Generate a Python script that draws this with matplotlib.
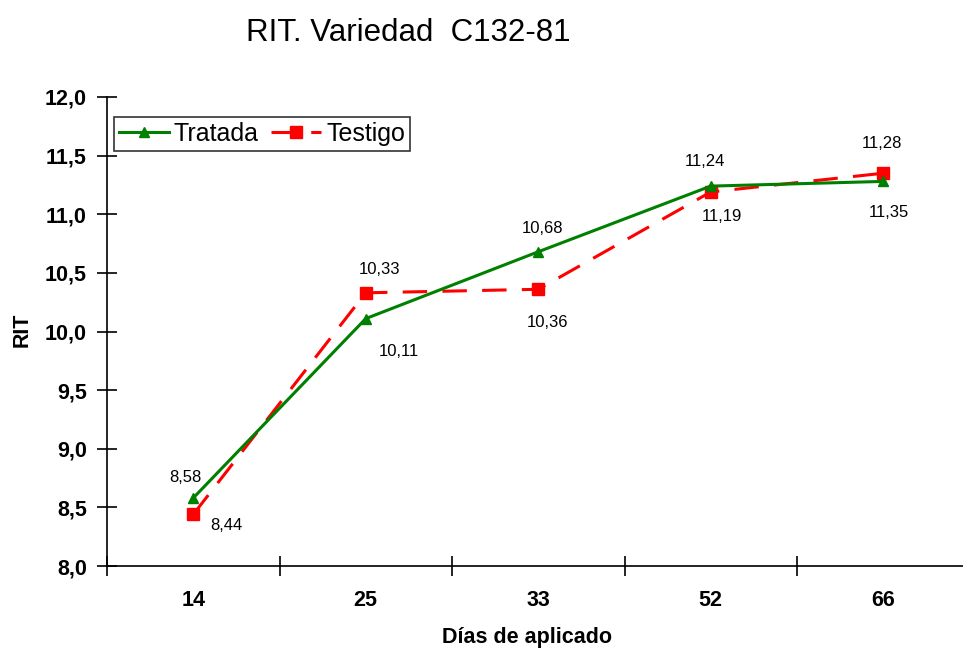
import matplotlib
matplotlib.use("Agg")
import matplotlib.pyplot as plt
from matplotlib.ticker import FuncFormatter

plt.rcParams['font.family'] = ['Liberation Sans', 'DejaVu Sans']

# data
dias = ['14', '25', '33', '52', '66']
tratada = [8.58, 10.11, 10.68, 11.24, 11.28]
testigo = [8.44, 10.33, 10.36, 11.19, 11.35]

# label offsets in points (dx, dy) for each point
off_tratada = [(-6, 15), (24, -24), (3, 17), (-4, 18), (-1, 27)]
off_testigo = [(24, -8), (10, 17), (7, -24), (8, -18), (4, -28)]

fig = plt.figure(figsize=(9.63, 6.5), dpi=100)
ax = fig.add_axes([107 / 963, 1 - 566 / 650, 862.5 / 963, 469 / 650])

x = list(range(len(dias)))
ax.plot(x, tratada, color='#008000', lw=2.2, marker='^', markersize=7,
        label='Tratada', zorder=3)
ax.plot(x, testigo, color='#ff0000', lw=2.2, marker='s', markersize=8,
        dashes=(8, 5), label='Testigo', zorder=2)

def fmt(v):
    return f"{v:.2f}".replace('.', ',')

for xi, v, o in zip(x, tratada, off_tratada):
    ax.annotate(fmt(v), (xi, v), xytext=o, textcoords='offset points',
                ha='center', va='center', fontsize=12)
for xi, v, o in zip(x, testigo, off_testigo):
    ax.annotate(fmt(v), (xi, v), xytext=o, textcoords='offset points',
                ha='center', va='center', fontsize=12)

ax.set_xlim(-0.5, len(dias) - 0.5)
ax.set_ylim(8.0, 12.0)
ax.set_yticks([8.0 + 0.5 * i for i in range(9)])
ax.yaxis.set_major_formatter(FuncFormatter(lambda v, p: f"{v:.1f}".replace('.', ',')))

ax.set_xticks(x)
ax.set_xticklabels(dias)
ax.set_xticks([i - 0.5 for i in range(len(dias) + 1)], minor=True)
ax.tick_params(axis='x', which='major', length=0, pad=17)
ax.tick_params(axis='x', which='minor', length=15, width=1.2, direction='inout')
ax.tick_params(axis='y', length=15, width=1.2, direction='inout', pad=7)
for lab in ax.get_xticklabels() + ax.get_yticklabels():
    lab.set_fontsize(15.5)
    lab.set_fontweight('bold')

for s in ['top', 'right']:
    ax.spines[s].set_visible(False)
for s in ['left', 'bottom']:
    ax.spines[s].set_linewidth(1.2)

ax.set_xlabel('Días de aplicado', fontsize=15.5, fontweight='bold')
ax.xaxis.set_label_coords((527 - 107) / 862.5, (566 - 638) / 469)
ax.set_ylabel('RIT', fontsize=15.5, fontweight='bold')
ax.yaxis.set_label_coords((22 - 107) / 862.5, (566 - 330) / 469)
ax.yaxis.label.set_va('center')
ax.xaxis.label.set_va('center')

fig.text(408 / 963, 1 - 33 / 650, 'RIT. Variedad  C132-81', fontsize=22.5,
         ha='center', va='center')

leg = ax.legend(loc='upper left', bbox_to_anchor=(0.008, 0.957), ncol=2,
                fontsize=18, frameon=True, fancybox=False, edgecolor='black',
                handlelength=2.0, handletextpad=0.2, columnspacing=0.5,
                borderpad=0.2, borderaxespad=0)
leg.get_frame().set_linewidth(1.2)

fig.savefig('out.png', dpi=100)
